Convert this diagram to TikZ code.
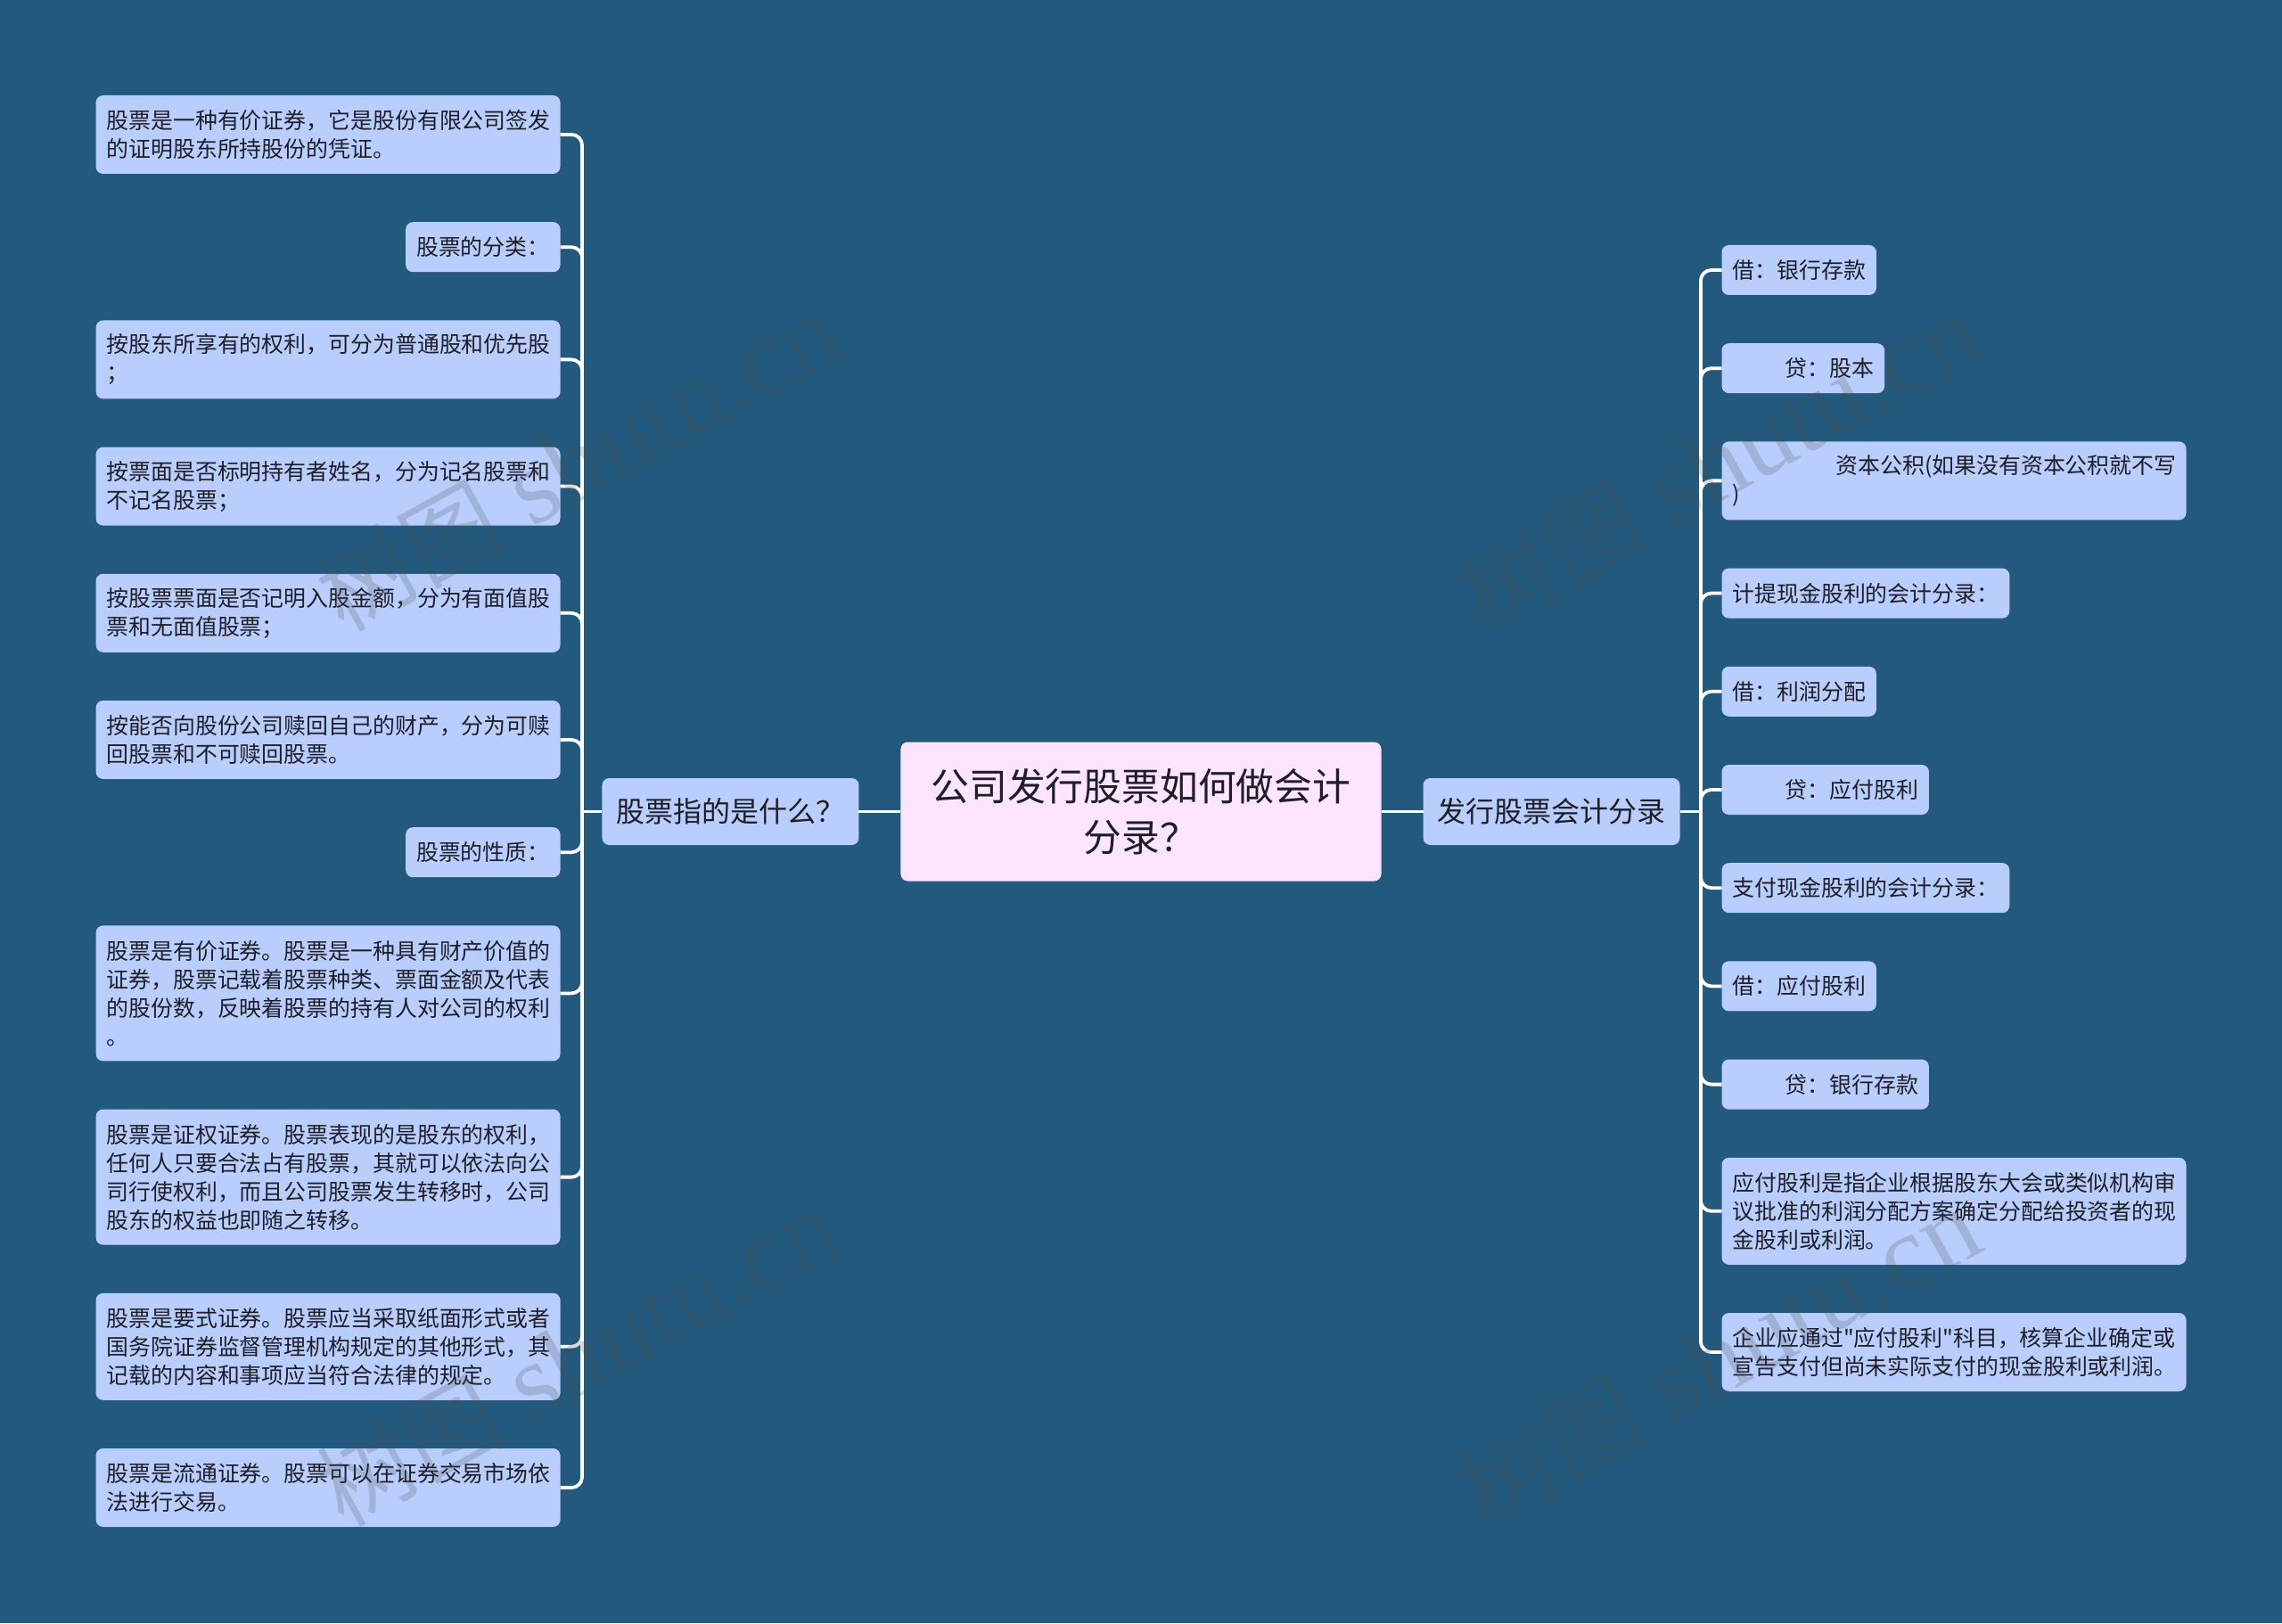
\documentclass[tikz,border=0pt]{standalone}
\usepackage{fontspec}
\newfontfamily\cnfont{Noto Sans CJK SC}
\newfontfamily\markfont{Liberation Serif}
\usetikzlibrary{positioning}
\newcommand{\marktext}{{\cnfont\fontsize{53pt}{53pt}\selectfont 树图}\hspace{15pt}{\markfont\fontsize{60pt}{60pt}\selectfont shutu.cn}}

\begin{document}
\begin{tikzpicture}
    \definecolor{mybg}{RGB}{34,89,124}
    \definecolor{myblue}{RGB}{185,206,253}
    \definecolor{mypink}{RGB}{254,229,254}
    \definecolor{mytext}{RGB}{30,30,40}
    \definecolor{mygray}{RGB}{80,80,80}

    \tikzstyle{box}=[rectangle,rounded corners=4pt,outer sep=0pt,fill=myblue,text=mytext,inner ysep=0pt,inner xsep=6pt,align=left]  % 节点的公共样式
    \tikzstyle{leaf}=[box,font=\cnfont\fontsize{12.45pt}{16pt}\selectfont]
    \tikzstyle{wide}=[leaf,text width=248.5pt]
    \tikzstyle{branch}=[box,font=\cnfont\fontsize{16pt}{20pt}\selectfont,minimum height=37.5pt,inner xsep=8pt]
    \tikzstyle{topic}=[box,fill=mypink,font=\cnfont\fontsize{21.4pt}{28.5pt}\selectfont,align=center,minimum width=269.5pt,minimum height=78pt]
    \tikzstyle{link}=[draw=white,line width=1.9pt,rounded corners=6pt]
    \tikzstyle{stamp}=[text=mygray,opacity=0.22,rotate=29]
    \tikzset{rows/.style={minimum height=#1*16pt+12pt}}

    % 背景
    \fill[mybg] (-640pt,-455.25pt) rectangle (640pt,455.25pt);
    \useasboundingbox (-640pt,-455.25pt) rectangle (640pt,455.25pt);

    % 中心和两个分支
    \node[topic](root) at (0,0){公司发行股票如何做会计\\分录？};
    \node[branch,left=23.5pt of root](askl){股票指的是什么？};
    \node[branch,right=23.5pt of root](askr){发行股票会计分录};
    \coordinate[left=11.2pt of askl](busl);
    \coordinate[right=11.7pt of askr](busr);

    % 左侧
    \node[wide,rows=2,anchor=north east](a1) at (-325.7pt,401.75pt){股票是一种有价证券，它是股份有限公司签发\\的证明股东所持股份的凭证。};
    \node[leaf,rows=1,below=27.1pt of a1.south east,anchor=north east](a2){股票的分类：};
    \node[wide,rows=2,below=27.1pt of a2.south east,anchor=north east](a3){按股东所享有的权利，可分为普通股和优先股\\；};
    \node[wide,rows=2,below=27.1pt of a3.south east,anchor=north east](a4){按票面是否标明持有者姓名，分为记名股票和\\不记名股票；};
    \node[wide,rows=2,below=27.1pt of a4.south east,anchor=north east](a5){按股票票面是否记明入股金额，分为有面值股\\票和无面值股票；};
    \node[wide,rows=2,below=27.1pt of a5.south east,anchor=north east](a6){按能否向股份公司赎回自己的财产，分为可赎\\回股票和不可赎回股票。};
    \node[leaf,rows=1,below=27.1pt of a6.south east,anchor=north east](a7){股票的性质：};
    \node[wide,rows=4,below=27.1pt of a7.south east,anchor=north east](a8){股票是有价证券。股票是一种具有财产价值的\\证券，股票记载着股票种类、票面金额及代表\\的股份数，反映着股票的持有人对公司的权利\\。};
    \node[wide,rows=4,below=27.1pt of a8.south east,anchor=north east](a9){股票是证权证券。股票表现的是股东的权利，\\任何人只要合法占有股票，其就可以依法向公\\司行使权利，而且公司股票发生转移时，公司\\股东的权益也即随之转移。};
    \node[wide,rows=3,below=27.1pt of a9.south east,anchor=north east](a10){股票是要式证券。股票应当采取纸面形式或者\\国务院证券监督管理机构规定的其他形式，其\\记载的内容和事项应当符合法律的规定。};
    \node[wide,rows=2,below=27.1pt of a10.south east,anchor=north east](a11){股票是流通证券。股票可以在证券交易市场依\\法进行交易。};

    % 右侧
    \node[leaf,rows=1,anchor=north west](b1) at (325.75pt,317.75pt){借：银行存款};
    \node[leaf,rows=1,below=27.1pt of b1.south west,anchor=north west](b2){\hspace*{29.5pt}贷：股本};
    \node[wide,rows=2,below=27.1pt of b2.south west,anchor=north west](b3){\hspace*{58pt}资本公积(如果没有资本公积就不写\\)};
    \node[leaf,rows=1,below=27.1pt of b3.south west,anchor=north west](b4){计提现金股利的会计分录：};
    \node[leaf,rows=1,below=27.1pt of b4.south west,anchor=north west](b5){借：利润分配};
    \node[leaf,rows=1,below=27.1pt of b5.south west,anchor=north west](b6){\hspace*{29.5pt}贷：应付股利};
    \node[leaf,rows=1,below=27.1pt of b6.south west,anchor=north west](b7){支付现金股利的会计分录：};
    \node[leaf,rows=1,below=27.1pt of b7.south west,anchor=north west](b8){借：应付股利};
    \node[leaf,rows=1,below=27.1pt of b8.south west,anchor=north west](b9){\hspace*{29.5pt}贷：银行存款};
    \node[wide,rows=3,below=27.1pt of b9.south west,anchor=north west](b10){应付股利是指企业根据股东大会或类似机构审\\议批准的利润分配方案确定分配给投资者的现\\金股利或利润。};
    \node[wide,rows=2,below=27.1pt of b10.south west,anchor=north west](b11){企业应通过"应付股利"科目，核算企业确定或\\宣告支付但尚未实际支付的现金股利或利润。};

    % 开始画线
    \draw[link](root)--(askl);
    \draw[link](root)--(askr);
    \draw[link](askl)--(busl);
    \draw[link](askr)--(busr);
    \draw[link](a1.east)-|(busl);
    \draw[link](a2.east)-|(busl);
    \draw[link](a3.east)-|(busl);
    \draw[link](a4.east)-|(busl);
    \draw[link](a5.east)-|(busl);
    \draw[link](a6.east)-|(busl);
    \draw[link](a7.east)-|(busl);
    \draw[link](a8.east)-|(busl);
    \draw[link](a9.east)-|(busl);
    \draw[link](a10.east)-|(busl);
    \draw[link](a11.east)-|(busl);
    \draw[link](b1.west)-|(busr);
    \draw[link](b2.west)-|(busr);
    \draw[link](b3.west)-|(busr);
    \draw[link](b4.west)-|(busr);
    \draw[link](b5.west)-|(busr);
    \draw[link](b6.west)-|(busr);
    \draw[link](b7.west)-|(busr);
    \draw[link](b8.west)-|(busr);
    \draw[link](b9.west)-|(busr);
    \draw[link](b10.west)-|(busr);
    \draw[link](b11.west)-|(busr);

    % 水印
    \node[stamp](m1) at (-316pt,196pt){\marktext};
    \node[stamp](m2) at (324pt,196pt){\marktext};
    \node[stamp](m3) at (-316pt,-306pt){\marktext};
    \node[stamp](m4) at (324pt,-306pt){\marktext};
\end{tikzpicture}
\end{document}
